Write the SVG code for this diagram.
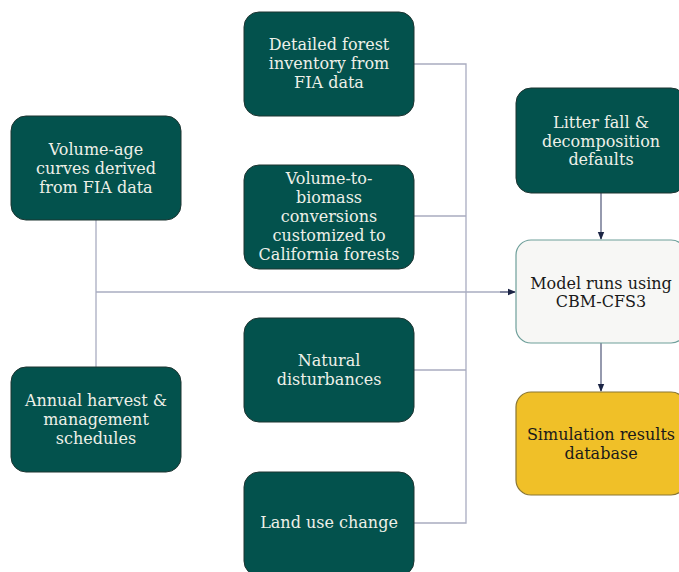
<svg xmlns="http://www.w3.org/2000/svg" width="679" height="572" viewBox="0 0 679 572">
<defs>
<style>
.dk rect{fill:#03524d;stroke:#1d3431;stroke-width:1}
.dk text{fill:#eef0e8}
text{font-family:"DejaVu Serif","Liberation Serif",serif;font-size:16px;text-anchor:middle;dominant-baseline:central}
.ln{fill:none;stroke:#a9acc0;stroke-width:1.3}
.ar{fill:none;stroke:#5d6483;stroke-width:1.3}
</style>
<marker id="ah" viewBox="0 0 8 8" refX="7" refY="4" markerWidth="8" markerHeight="8" markerUnits="userSpaceOnUse" orient="auto">
<path d="M0,0.8 L8,4 L0,7.2 Z" fill="#1c2545"/>
</marker>
</defs>
<rect width="679" height="572" fill="#ffffff"/>
<g id="connectors">
<path class="ln" d="M414,64 H466 V523 H414 M414,216 H466 M414,370 H466"/>
<path class="ln" d="M96,220 V367"/>
<path class="ln" d="M96,292 H510"/>
<path class="ar" d="M500,292 H515" marker-end="url(#ah)"/>
<path class="ar" d="M601,193 V239" marker-end="url(#ah)"/>
<path class="ar" d="M601,343 V391" marker-end="url(#ah)"/>
</g>
<g id="n-volume-age" class="dk">
<rect x="11" y="116" width="170" height="104" rx="15"/>
<text x="96" y="149">Volume-age</text>
<text x="96" y="168">curves derived</text>
<text x="96" y="187">from FIA data</text>
</g>
<g id="n-annual-harvest" class="dk">
<rect x="11" y="367" width="170" height="105" rx="15"/>
<text x="96" y="400">Annual harvest &amp;</text>
<text x="96" y="419">management</text>
<text x="96" y="438">schedules</text>
</g>
<g id="n-detailed-forest" class="dk">
<rect x="244" y="12" width="170" height="104" rx="15"/>
<text x="329" y="44">Detailed forest</text>
<text x="329" y="63">inventory from</text>
<text x="329" y="82">FIA data</text>
</g>
<g id="n-volume-biomass" class="dk">
<rect x="244" y="165" width="170" height="104" rx="15"/>
<text x="329" y="178">Volume-to-</text>
<text x="329" y="197">biomass</text>
<text x="329" y="216">conversions</text>
<text x="329" y="235">customized to</text>
<text x="329" y="254">California forests</text>
</g>
<g id="n-natural-disturbances" class="dk">
<rect x="244" y="318" width="170" height="104" rx="15"/>
<text x="329" y="360">Natural</text>
<text x="329" y="379">disturbances</text>
</g>
<g id="n-land-use" class="dk">
<rect x="244" y="472" width="170" height="104" rx="15"/>
<text x="329" y="522">Land use change</text>
</g>
<g id="n-litter-fall" class="dk">
<rect x="516" y="88" width="170" height="105" rx="15"/>
<text x="601" y="122">Litter fall &amp;</text>
<text x="601" y="141">decomposition</text>
<text x="601" y="159">defaults</text>
</g>
<g id="n-model-runs">
<rect x="516" y="240" width="170" height="103" rx="15" fill="#f7f7f5" stroke="#6e9f9a" stroke-width="1.2"/>
<text x="601" y="283" fill="#1a1a1a">Model runs using</text>
<text x="601" y="301" fill="#1a1a1a">CBM-CFS3</text>
</g>
<g id="n-simulation-results">
<rect x="516" y="392" width="170" height="103" rx="15" fill="#f0c028" stroke="#8a7633" stroke-width="1.2"/>
<text x="601" y="434" fill="#1a1a1a">Simulation results</text>
<text x="601" y="453" fill="#1a1a1a">database</text>
</g>
</svg>
